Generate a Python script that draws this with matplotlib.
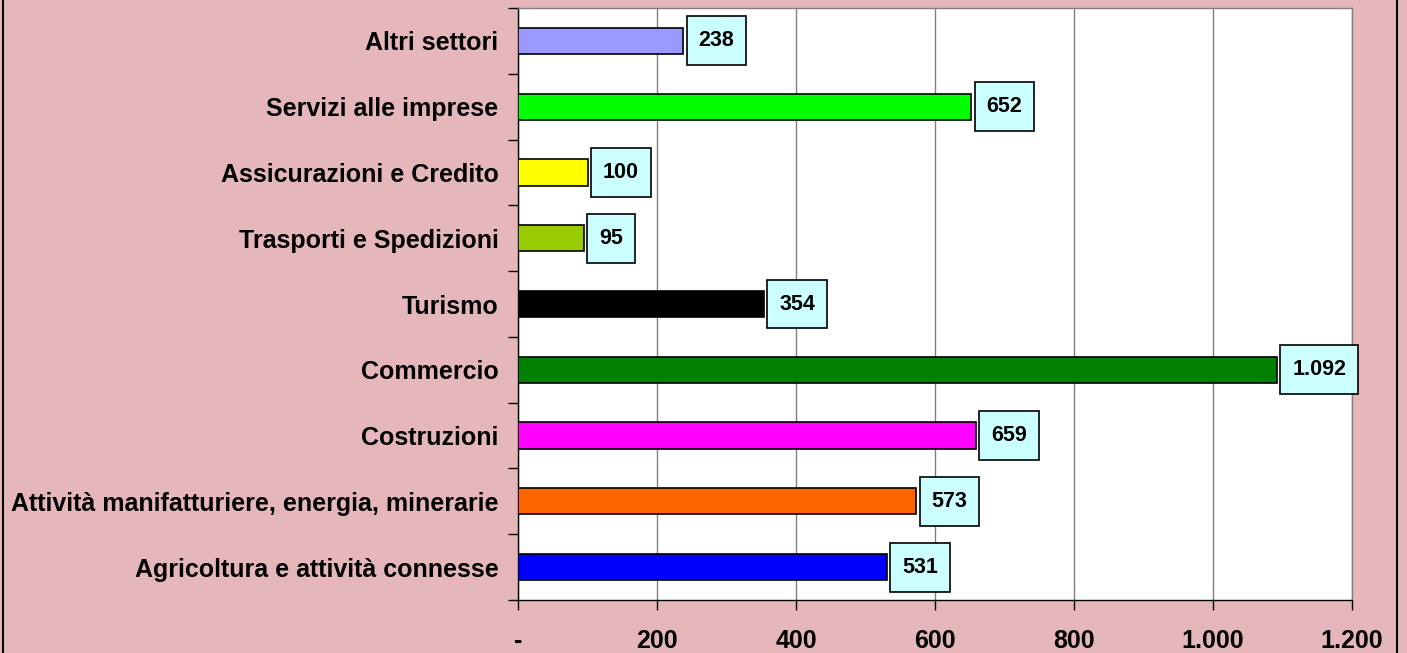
import matplotlib
matplotlib.use("Agg")
import matplotlib.pyplot as plt
from matplotlib.ticker import FuncFormatter, FixedLocator
from matplotlib.lines import Line2D
from matplotlib.path import Path

categories = [
    "Agricoltura e attività connesse",
    "Attività manifatturiere, energia, minerarie",
    "Costruzioni",
    "Commercio",
    "Turismo",
    "Trasporti e Spedizioni",
    "Assicurazioni e Credito",
    "Servizi alle imprese",
    "Altri settori",
]
values = [531, 573, 659, 1092, 354, 95, 100, 652, 238]
colors = ["#0000FF", "#FF6600", "#FF00FF", "#008000", "#000000",
          "#99CC00", "#FFFF00", "#00FF00", "#9999FF"]
xticks = [0, 200, 400, 600, 800, 1000, 1200]

plt.rcParams['font.family'] = ['Liberation Sans', 'DejaVu Sans']

fig = plt.figure(figsize=(14.07, 6.53), dpi=100)
bg = "#E5B7BB"
fig.patch.set_facecolor(bg)
ax = fig.add_axes([518/1407, 1 - 600/653, (1352-518)/1407, (600-8)/653])
ax.set_facecolor("white")

ypos = list(range(len(categories)))
ax.barh(ypos, values, height=0.4, color=colors, edgecolor="black", linewidth=1.2, zorder=3)

def fmt(v):
    return f"{v:,.0f}".replace(",", ".")

def label_box(x0, y0, width, height, mutation_size):
    px = 0.55 * mutation_size
    py = 0.65 * mutation_size
    x0, y0 = x0 - px, y0 - py
    x1, y1 = x0 + width + 2 * px, y0 + height + 2 * py
    return Path([(x0, y0), (x1, y0), (x1, y1), (x0, y1), (x0, y0)], closed=True)

for y, v in zip(ypos, values):
    ax.annotate(fmt(v), xy=(v, y), xytext=(11, 0), textcoords="offset points",
                ha="left", va="center", fontsize=15.5, fontweight="bold", zorder=5,
                bbox=dict(boxstyle=label_box, fc="#CCFFFF", ec="black", lw=1.2))

ax.set_xlim(0, 1200)
ax.set_ylim(-0.5, len(categories) - 0.5)
ax.xaxis.set_major_locator(FixedLocator(xticks))
ax.xaxis.set_major_formatter(FuncFormatter(lambda v, p: "-" if v == 0 else fmt(v)))
ax.grid(axis="x", color="#808080", linewidth=1, zorder=0)

ax.set_yticks(ypos)
ax.set_yticklabels(categories, fontsize=18, fontweight="bold")
ax.set_yticks([i - 0.5 for i in range(len(categories) + 1)], minor=True)
ax.tick_params(axis="y", which="major", length=0, pad=14)
ax.tick_params(axis="y", which="minor", length=7, width=1, direction="out")
ax.tick_params(axis="x", which="major", length=7, width=1, direction="out", pad=14,
               labelsize=18)
for lab in ax.get_xticklabels():
    lab.set_fontweight("bold")

for s in ["top", "right"]:
    ax.spines[s].set_color("#808080")
    ax.spines[s].set_linewidth(1)
for s in ["left", "bottom"]:
    ax.spines[s].set_color("black")
    ax.spines[s].set_linewidth(1)

# outer chart border
fig.add_artist(Line2D([3/1407, 3/1407], [0, 1], transform=fig.transFigure, color="black", lw=1.5))
fig.add_artist(Line2D([1397/1407, 1397/1407], [0, 1], transform=fig.transFigure, color="black", lw=1.5))

fig.savefig("out.png", dpi=100, facecolor=bg)
